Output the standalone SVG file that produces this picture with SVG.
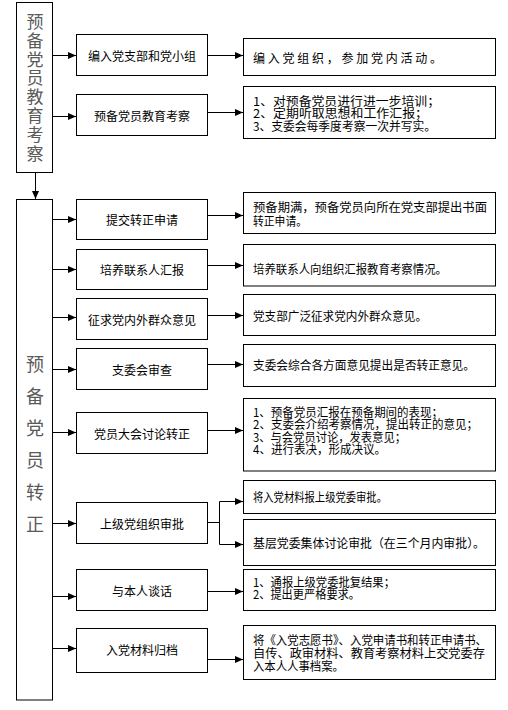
<svg xmlns="http://www.w3.org/2000/svg" width="508" height="710" viewBox="0 0 508 710">
<defs>
<marker id="ah" markerUnits="userSpaceOnUse" markerWidth="9" markerHeight="8" refX="8" refY="3.5" orient="auto">
<path d="M0,0 L8,3.5 L0,7 z" fill="#000"/>
</marker>
<style>
.box{fill:#fff;stroke:#000;stroke-width:1}
.ln{fill:none;stroke:#000;stroke-width:1}
.arr{fill:none;stroke:#000;stroke-width:1;marker-end:url(#ah)}
.big{font-family:"Noto Sans CJK SC","Liberation Sans",sans-serif;fill:#5a5a5a;text-anchor:middle;dominant-baseline:central}
.mid{font-family:"Noto Sans CJK SC","Liberation Sans",sans-serif;font-size:12px;fill:#000;text-anchor:middle;dominant-baseline:central}
.rt{font-family:"Noto Sans CJK SC","Liberation Sans",sans-serif;font-size:12px;fill:#000;dominant-baseline:central}
</style>
</defs>
<rect width="508" height="710" fill="#fff"/>

<g id="connectors">
<path class="arr" d="M35.5,172.5 V199"/>
<path class="arr" d="M52.5,55.5 H76"/>
<path class="arr" d="M52.5,116.5 H76"/>
<path class="arr" d="M52.5,219.5 H76"/>
<path class="arr" d="M52.5,269.5 H76"/>
<path class="arr" d="M52.5,317.5 H76"/>
<path class="arr" d="M52.5,369.5 H76"/>
<path class="arr" d="M52.5,432.5 H76"/>
<path class="arr" d="M52.5,523.5 H76"/>
<path class="arr" d="M52.5,596.5 H76"/>
<path class="arr" d="M52.5,648.5 H76"/>
<path class="arr" d="M207.5,55.5 H243"/>
<path class="arr" d="M207.5,112.5 H243"/>
<path class="arr" d="M207.5,215.5 H243"/>
<path class="arr" d="M207.5,265.5 H243"/>
<path class="arr" d="M207.5,315.5 H243"/>
<path class="arr" d="M207.5,364.5 H243"/>
<path class="arr" d="M207.5,430.5 H243"/>
<path class="ln" d="M207.5,522.5 H219.5 M219.5,501.5 V544.5"/>
<path class="arr" d="M219.5,501.5 H243"/>
<path class="arr" d="M219.5,544.5 H243"/>
<path class="arr" d="M207.5,591.5 H243"/>
<path class="arr" d="M207.5,659.5 H243"/>
</g>

<g id="stage1">
<rect class="box" x="16.5" y="2.5" width="36" height="170"/>
<text class="big" font-size="17"><tspan x="35" y="20">预</tspan><tspan x="35" y="38.8">备</tspan><tspan x="35" y="57.6">党</tspan><tspan x="35" y="76.4">员</tspan><tspan x="35" y="95.2">教</tspan><tspan x="35" y="114">育</tspan><tspan x="35" y="132.8">考</tspan><tspan x="35" y="151.6">察</tspan></text>
</g>

<g id="stage2">
<rect class="box" x="16.5" y="199.5" width="36" height="500.5"/>
<text class="big" font-size="18"><tspan x="35" y="363">预</tspan><tspan x="35" y="395">备</tspan><tspan x="35" y="427">党</tspan><tspan x="35" y="459">员</tspan><tspan x="35" y="491">转</tspan><tspan x="35" y="523">正</tspan></text>
</g>

<g id="m1"><rect class="box" x="76.5" y="34.5" width="131" height="41"/><text class="mid" x="142" y="55.5">编入党支部和党小组</text></g>
<g id="m2"><rect class="box" x="76.5" y="94.5" width="131" height="41"/><text class="mid" x="142" y="115">预备党员教育考察</text></g>
<g id="m3"><rect class="box" x="76.5" y="199.5" width="131" height="40"/><text class="mid" x="142" y="219.5">提交转正申请</text></g>
<g id="m4"><rect class="box" x="76.5" y="249.5" width="131" height="40"/><text class="mid" x="142" y="269.5">培养联系人汇报</text></g>
<g id="m5"><rect class="box" x="76.5" y="298.5" width="131" height="41"/><text class="mid" x="142" y="319">征求党内外群众意见</text></g>
<g id="m6"><rect class="box" x="76.5" y="348.5" width="131" height="41"/><text class="mid" x="142" y="369.5">支委会审查</text></g>
<g id="m7"><rect class="box" x="76.5" y="412.5" width="131" height="41"/><text class="mid" x="142" y="433">党员大会讨论转正</text></g>
<g id="m8"><rect class="box" x="76.5" y="502.5" width="131" height="41"/><text class="mid" x="142" y="523.5">上级党组织审批</text></g>
<g id="m9"><rect class="box" x="76.5" y="569.5" width="131" height="41"/><text class="mid" x="142" y="590.5">与本人谈话</text></g>
<g id="m10"><rect class="box" x="76.5" y="628.5" width="131" height="44"/><text class="mid" x="142" y="649.5">入党材料归档</text></g>

<g id="r1"><rect class="box" x="243.5" y="38.5" width="252" height="37"/><text class="rt" x="253" y="57.5" textLength="189" lengthAdjust="spacing">编入党组织，参加党内活动。</text></g>
<g id="r2"><rect class="box" x="243.5" y="86.5" width="252" height="52"/>
<text class="rt" x="253" y="100" textLength="187" lengthAdjust="spacingAndGlyphs">1、对预备党员进行进一步培训；</text>
<text class="rt" x="253" y="112.5" textLength="175" lengthAdjust="spacingAndGlyphs">2、定期听取思想和工作汇报；</text>
<text class="rt" x="253" y="125" textLength="183" lengthAdjust="spacingAndGlyphs">3、支委会每季度考察一次并写实。</text></g>
<g id="r3"><rect class="box" x="243.5" y="192.5" width="252" height="41"/>
<text class="rt" x="253" y="206.5" textLength="234" lengthAdjust="spacingAndGlyphs">预备期满，预备党员向所在党支部提出书面</text>
<text class="rt" x="253" y="220" textLength="54" lengthAdjust="spacingAndGlyphs">转正申请。</text></g>
<g id="r4"><rect class="box" x="243.5" y="244.5" width="252" height="41.5"/><text class="rt" x="253" y="268.5" textLength="194" lengthAdjust="spacingAndGlyphs">培养联系人向组织汇报教育考察情况。</text></g>
<g id="r5"><rect class="box" x="243.5" y="294.5" width="252" height="41"/><text class="rt" x="253" y="315" textLength="174" lengthAdjust="spacingAndGlyphs">党支部广泛征求党内外群众意见。</text></g>
<g id="r6"><rect class="box" x="243.5" y="344.5" width="252" height="42"/><text class="rt" x="253" y="364.5" textLength="222" lengthAdjust="spacingAndGlyphs">支委会综合各方面意见提出是否转正意见。</text></g>
<g id="r7"><rect class="box" x="243.5" y="398.5" width="252" height="72.5"/>
<text class="rt" x="253" y="411.5" textLength="190" lengthAdjust="spacingAndGlyphs">1、预备党员汇报在预备期间的表现；</text>
<text class="rt" x="253" y="423.8" textLength="225" lengthAdjust="spacingAndGlyphs">2、支委会介绍考察情况，提出转正的意见；</text>
<text class="rt" x="253" y="436" textLength="153" lengthAdjust="spacingAndGlyphs">3、与会党员讨论，发表意见；</text>
<text class="rt" x="253" y="448.3" textLength="133" lengthAdjust="spacingAndGlyphs">4、进行表决，形成决议。</text></g>
<g id="r8a"><rect class="box" x="243.5" y="480.5" width="252" height="33"/><text class="rt" x="253" y="496.5" textLength="134" lengthAdjust="spacingAndGlyphs">将入党材料报上级党委审批。</text></g>
<g id="r8b"><rect class="box" x="243.5" y="519.5" width="252" height="46"/><text class="rt" x="253" y="542.5" textLength="232" lengthAdjust="spacingAndGlyphs">基层党委集体讨论审批（在三个月内审批）。</text></g>
<g id="r9"><rect class="box" x="243.5" y="569.5" width="252" height="41"/>
<text class="rt" x="253" y="581.7" textLength="142" lengthAdjust="spacingAndGlyphs">1、通报上级党委批复结果；</text>
<text class="rt" x="253" y="593.5" textLength="107" lengthAdjust="spacingAndGlyphs">2、提出更严格要求。</text></g>
<g id="r10"><rect class="box" x="243.5" y="625.5" width="252" height="54"/>
<text class="rt" x="253" y="639.5" textLength="234" lengthAdjust="spacingAndGlyphs">将《入党志愿书》、入党申请书和转正申请书、</text>
<text class="rt" x="253" y="652" textLength="232" lengthAdjust="spacingAndGlyphs">自传、政审材料、教育考察材料上交党委存</text>
<text class="rt" x="253" y="665" textLength="91" lengthAdjust="spacingAndGlyphs">入本人人事档案。</text></g>
</svg>
